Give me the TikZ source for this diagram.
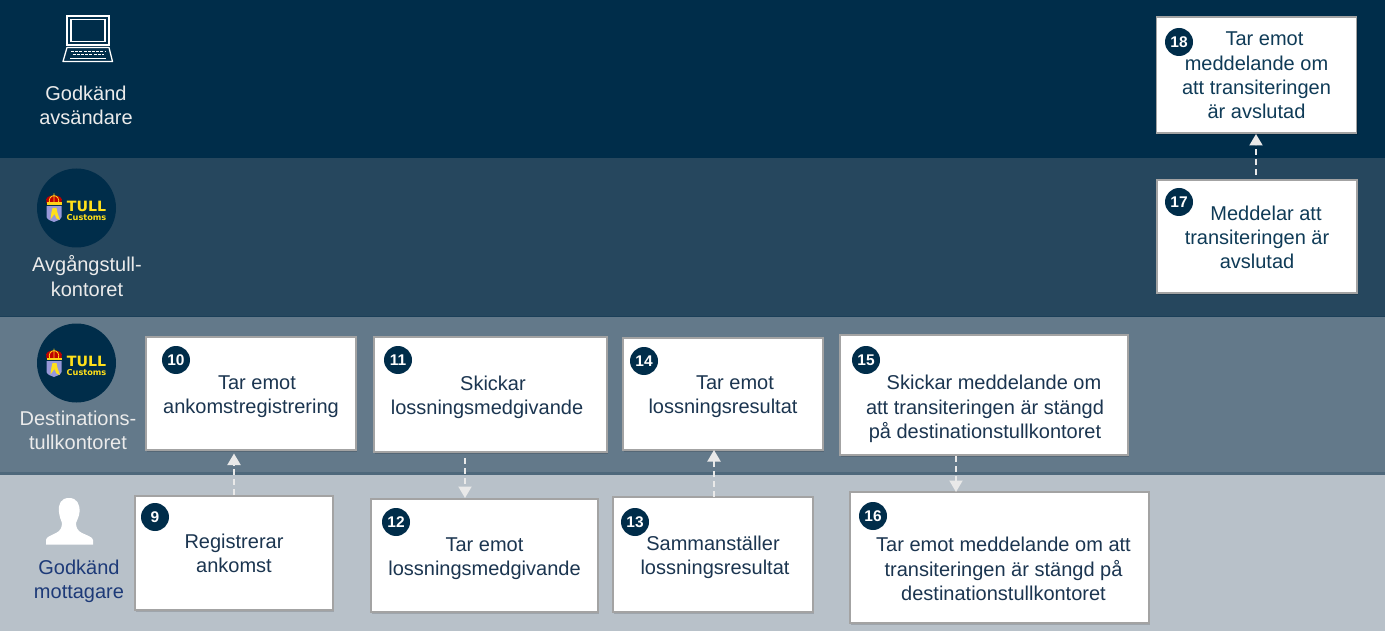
\documentclass[tikz,border=0pt]{standalone}
\usepackage{fontspec}
\setmainfont{Liberation Sans}
\newfontfamily\logofont{DejaVu Sans}
\usetikzlibrary{arrows.meta,shadows}
\definecolor{bandA}{HTML}{002D4A}
\definecolor{bandB}{HTML}{26475E}
\definecolor{bandC}{HTML}{63798A}
\definecolor{bandD}{HTML}{B8C1C9}
\definecolor{ink}{HTML}{1B3550}
\definecolor{inkB}{HTML}{0F3B57}
\definecolor{recv}{HTML}{1D3A78}
\definecolor{tullgold}{HTML}{FFE01A}
\definecolor{arrowc}{HTML}{E9E9E9}
\tikzset{
  x=1pt,y=-1pt,
  procbox/.style={draw=black!36,line width=1.3pt,fill=white,inner sep=0pt,
    drop shadow={shadow xshift=1.2pt,shadow yshift=-2.2pt,opacity=.14,fill=black},
    drop shadow={shadow xshift=.6pt,shadow yshift=-1.1pt,opacity=.2,fill=black}},
  lbl/.style={align=center,inner sep=0pt,text=ink,font=\fontsize{20}{24.3}\selectfont},
  lblB/.style={lbl,text=inkB},
  role/.style={align=center,inner sep=0pt,text=white!92!black,font=\fontsize{20}{24.3}\selectfont},
  badge/.style={circle,fill=bandA,draw=none,text=white,minimum size=28pt,inner sep=0pt,
    font=\fontsize{15.5}{16}\selectfont\bfseries},
  flow/.style={draw=arrowc,line width=2pt,dash pattern=on 6pt off 4pt,
    -{Triangle[length=11.5pt,width=13pt,fill=arrowc]}},
  tulllogo/.pic={
    \fill[bandA] (0,0) circle (39.5);
    % crown
    \fill[red!75!black] (-30,-5) .. controls (-32,-11) and (-27,-12.5) .. (-22.5,-12.5) .. controls (-18,-12.5) and (-13,-11) .. (-15,-5) -- cycle;
    \draw[tullgold!85!orange,line width=.8pt] (-22.5,-5) -- (-22.5,-14.5) (-27,-5) .. controls (-28,-9) and (-26,-12) .. (-22.5,-12.5) .. controls (-19,-12) and (-17,-9) .. (-18,-5);
    \fill[tullgold!85!orange] (-30,-5.5) rectangle (-15,-2.6);
    % shield
    \fill[white!70!blue!85!black] (-30,-1.8) -- (-15,-1.8) -- (-15,9) .. controls (-16,12) and (-20,13) .. (-22.5,14) .. controls (-25,13) and (-29,12) .. (-30,9) -- cycle;
    \fill[tullgold] (-24,0) -- (-20,0) -- (-19,5) -- (-16.5,12) -- (-20,10.5) -- (-22,6) -- (-26,11.5) -- (-25,4) -- cycle;
    \node[inner sep=0pt,text=tullgold,font=\logofont\fontsize{14.2}{15}\selectfont\bfseries] at (10,-2) {TULL};
    \node[inner sep=0pt,text=tullgold,font=\logofont\fontsize{8.2}{9}\selectfont\bfseries] at (10,9.5) {Customs};
  }
}
\begin{document}
\begin{tikzpicture}
\useasboundingbox (0,0) rectangle (1385,631);
% bands
\fill[bandA] (0,0) rectangle (1385,158.5);
\fill[bandB] (0,158.5) rectangle (1385,317);
\fill[bandC] (0,317) rectangle (1385,474);
\fill[bandD] (0,474) rectangle (1385,631);
\fill[bandC!65!bandB] (0,472) rectangle (1385,475);
\fill[bandB!70!bandA] (0,315.5) rectangle (1385,317);
% laptop
\draw[white,line width=1.3pt] (67,16) rectangle (109,45);
\draw[white,line width=1.3pt] (71,19.5) rectangle (105,41.5);
\draw[white,line width=1.3pt,line join=round] (67,47.5) -- (109,47.5) -- (112.5,61.5) -- (63,61.5) -- cycle;
\draw[white,line width=1.2pt,dash pattern=on 3pt off 1.2pt] (71,51.5) -- (105,51.5);
\draw[white,line width=1.2pt,dash pattern=on 3pt off 1.2pt] (72.5,54.5) -- (104,54.5);
\draw[white,line width=1pt] (70,58.5) -- (106,58.5);
% person
\fill[white] (69,498) .. controls (61,498) and (58,504) .. (59,512)
  .. controls (59.5,517) and (61,520) .. (62,523) .. controls (62,528) and (60,531) .. (56,533)
  .. controls (51,535.5) and (46,537) .. (46,540) -- (46,544.5) -- (93,544.5) -- (93,540)
  .. controls (93,537) and (86,535) .. (82,533) .. controls (78,531) and (76,528) .. (76,523)
  .. controls (77,520) and (79,517) .. (79.5,512) .. controls (80,504) and (77,498) .. (69,498) -- cycle;
% logos
\pic at (76.5,208) {tulllogo};
\pic at (76.5,363) {tulllogo};
% role labels
\node[role] (r1) at (86,105.5) {Godkänd\\avsändare};
\node[role] (r2) at (87,276) {Avgångstull-\\kontoret};
\node[role] (r3) at (78,430) {Destinations-\\tullkontoret};
\node[role,text=recv] (r4) at (79,581) {Godkänd\\mottagare};
% boxes
\node[procbox,minimum width=200pt,minimum height=116pt] (b18) at (1256.5,75) {};
\node[procbox,minimum width=200pt,minimum height=113pt] (b17) at (1257,236.5) {};
\node[procbox,minimum width=210pt,minimum height=113pt] (b10) at (251,393.5) {};
\node[procbox,minimum width=198pt,minimum height=114pt] (b9) at (234,553) {};
\node[procbox,minimum width=233pt,minimum height=115pt] (b11) at (490.5,394.5) {};
\node[procbox,minimum width=227pt,minimum height=113pt] (b12) at (484.5,555.5) {};
\node[procbox,minimum width=200pt,minimum height=112pt] (b14) at (723,394) {};
\node[procbox,minimum width=200pt,minimum height=115pt] (b13) at (713,554.5) {};
\node[procbox,minimum width=288pt,minimum height=120pt] (b15) at (984,395) {};
\node[procbox,minimum width=299pt,minimum height=131pt] (b16) at (999.5,557.5) {};
% texts
\node[lblB] (t18) at (1256.5,75.5) {\hspace*{16pt}Tar emot\\meddelande om\\att transiteringen\\är avslutad};
\node[lblB] (t17) at (1257,237.5) {\hspace*{18pt}Meddelar att\\transiteringen är\\avslutad};
\node[lbl] (t10) at (251,397) {\hspace*{12pt}Tar emot\\ankomstregistrering};
\node[lbl] (t9) at (234,553) {Registrerar\\ankomst};
\node[lbl] (t11) at (487,397) {\hspace*{12pt}Skickar\\lossningsmedgivande};
\node[lbl] (t12) at (484.5,559) {Tar emot\\lossningsmedgivande};
\node[lbl] (t14) at (723,397) {\hspace*{24pt}Tar emot\\lossningsresultat};
\node[lbl] (t13) at (715,557) {\hspace*{-4pt}Sammanställer\\lossningsresultat};
\node[lbl] (t15) at (985,409) {\hspace*{18pt}Skickar meddelande om\\att transiteringen är stängd\\på destinationstullkontoret};
\node[lbl] (t16) at (1003.5,569) {Tar emot meddelande om att\\transiteringen är stängd på\\destinationstullkontoret};
% badges
\node[badge] (n18) at (1179,42) {18};
\node[badge] (n17) at (1179,202) {17};
\node[badge] (n10) at (176,360) {10};
\node[badge] (n9) at (155,517) {9};
\node[badge] (n11) at (398,360) {11};
\node[badge] (n12) at (396,522) {12};
\node[badge] (n14) at (644,361) {14};
\node[badge] (n13) at (635,522) {13};
\node[badge] (n15) at (866,360) {15};
\node[badge] (n16) at (873,516) {16};
% connector ends
\coordinate (s9) at (234,495);   \coordinate (e10) at (234,453.5);
\coordinate (s11) at (465,458);  \coordinate (e12) at (465,498);
\coordinate (s13) at (714,497);  \coordinate (e14) at (714,450);
\coordinate (s15) at (956,456);  \coordinate (e16) at (956,492);
\coordinate (s17) at (1256,175); \coordinate (e18) at (1256,134);
\draw[flow] (s9) -- (e10);
\draw[flow] (s11) -- (e12);
\draw[flow] (s13) -- (e14);
\draw[flow] (s15) -- (e16);
\draw[flow] (s17) -- (e18);
\end{tikzpicture}
\end{document}
